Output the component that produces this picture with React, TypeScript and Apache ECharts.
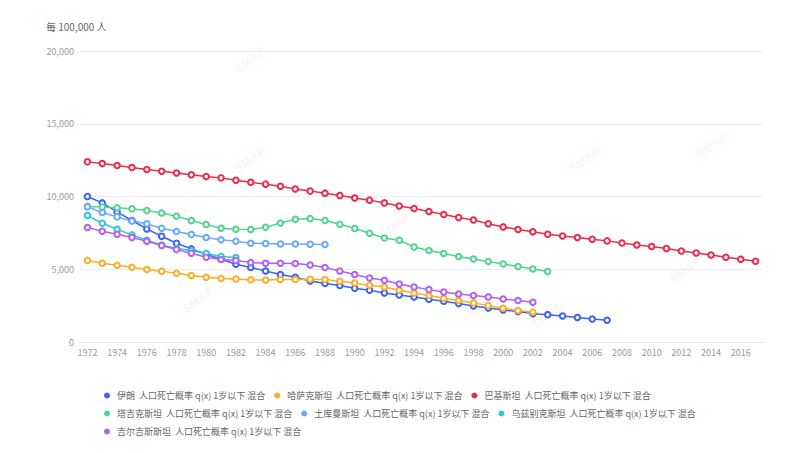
import React, { useEffect, useRef } from "react";
import * as echarts from "echarts";

const years = [
  "1972", "1973", "1974", "1975", "1976", "1977", "1978", "1979", "1980", "1981",
  "1982", "1983", "1984", "1985", "1986", "1987", "1988", "1989", "1990", "1991",
  "1992", "1993", "1994", "1995", "1996", "1997", "1998", "1999", "2000", "2001",
  "2002", "2003", "2004", "2005", "2006", "2007", "2008", "2009", "2010", "2011",
  "2012", "2013", "2014", "2015", "2016", "2017",
];

const iran = [
  10000, 9560, 8940, 8350, 7770, 7270, 6790, 6400, 6030, 5690,
  5340, 5120, 4880, 4640, 4450, 4190, 4020, 3880, 3690, 3560,
  3370, 3230, 3100, 2940, 2800, 2640, 2480, 2340, 2200, 2090,
  1950, 1880, 1790, 1680, 1580, 1490,
];
const kazakhstan = [
  5600, 5410, 5280, 5140, 4980, 4860, 4720, 4570, 4450, 4360,
  4330, 4270, 4260, 4290, 4290, 4310, 4290, 4170, 4060, 3900,
  3780, 3560, 3370, 3190, 3010, 2850, 2680, 2500, 2320, 2160,
  2040,
];
const pakistan = [
  12380, 12270, 12130, 11990, 11860, 11740, 11620, 11490, 11380, 11280,
  11120, 10980, 10850, 10710, 10520, 10370, 10230, 10070, 9900, 9750,
  9560, 9350, 9170, 8970, 8760, 8560, 8390, 8120, 7910, 7730,
  7570, 7410, 7290, 7180, 7060, 6950, 6810, 6670, 6560, 6420,
  6260, 6120, 5980, 5830, 5690, 5550,
];
const tajikistan = [
  9320, 9280, 9220, 9150, 9040, 8870, 8640, 8350, 8070, 7820,
  7750, 7730, 7890, 8180, 8440, 8480, 8350, 8090, 7800, 7480,
  7150, 6990, 6530, 6290, 6080, 5870, 5710, 5530, 5360, 5190,
  5020, 4840,
];
const turkmenistan = [
  9290, 8900, 8600, 8320, 8120, 7820, 7590, 7390, 7180, 7020,
  6930, 6790, 6770, 6740, 6740, 6720, 6700,
];
const uzbekistan = [
  8690, 8160, 7750, 7360, 6990, 6670, 6420, 6290, 6080, 5870,
  5800,
];
const kyrgyzstan = [
  7870, 7610, 7410, 7180, 6930, 6630, 6350, 6100, 5830, 5670,
  5600, 5460, 5410, 5410, 5390, 5290, 5120, 4880, 4640, 4400,
  4240, 3990, 3780, 3600, 3440, 3300, 3190, 3100, 2960, 2850,
  2730,
];

const suffix = "  人口死亡概率 q(x) 1岁以下 混合";
const seriesDefs = [
  { name: "伊朗" + suffix, data: iran, color: "#3b63f3" },
  { name: "哈萨克斯坦" + suffix, data: kazakhstan, color: "#fcad26" },
  { name: "巴基斯坦" + suffix, data: pakistan, color: "#ec2b4a" },
  { name: "塔吉克斯坦" + suffix, data: tajikistan, color: "#50d58e" },
  { name: "土库曼斯坦" + suffix, data: turkmenistan, color: "#6ba7fa" },
  { name: "乌兹别克斯坦" + suffix, data: uzbekistan, color: "#2ec7d8" },
  { name: "吉尔吉斯斯坦" + suffix, data: kyrgyzstan, color: "#b35ef5" },
];

const yTicks = [0, 5000, 10000, 15000, 20000];

const watermarks = [
  [250, 160], [395, 225], [585, 160], [712, 145], [685, 270], [548, 315], [198, 300], [250, 60],
];

const FONT = "'Noto Sans CJK SC', 'Noto Sans', sans-serif";

export default function App() {
  const ref = useRef<HTMLDivElement>(null);
  useEffect(() => {
    document.body.style.margin = "0";
    if (!ref.current) return;
    const chart = echarts.init(ref.current, undefined, { renderer: "svg" });
    chart.setOption({
      animation: false,
      backgroundColor: "#ffffff",
      textStyle: { fontFamily: FONT },
      title: {
        text: "每 100,000 人",
        left: 41,
        top: 16,
        textStyle: { fontSize: 10, fontWeight: "normal", color: "#666", fontFamily: FONT },
      },
      graphic: watermarks.map(([x, y]) => ({
        type: "text",
        x,
        y,
        rotation: Math.PI / 5,
        silent: true,
        z: -1,
        style: {
          text: "SMAP",
          fill: "rgba(236, 60, 80, 0.07)",
          font: "bold 12px sans-serif",
          align: "center",
          verticalAlign: "middle",
        },
      })),
      legend: {
        left: 99,
        right: 60,
        top: 386,
        icon: "circle",
        itemWidth: 6,
        itemHeight: 6,
        itemGap: 9,
        itemStyle: { borderWidth: 0 },
        textStyle: { fontSize: 9, color: "#666", fontFamily: FONT, padding: [0, 0, 0, 2] },
        data: seriesDefs.map((s) => s.name),
      },
      grid: { left: 80, right: 36, top: 51, bottom: 111 },
      xAxis: {
        type: "category",
        data: years,
        boundaryGap: true,
        axisLine: { lineStyle: { color: "#e6e6ee" } },
        axisTick: { show: false },
        axisLabel: { interval: 1, fontSize: 9, color: "#999", margin: 6 },
      },
      yAxis: {
        type: "value",
        min: yTicks[0],
        max: yTicks[yTicks.length - 1],
        interval: 5000,
        axisLine: { show: false },
        axisTick: { show: false },
        splitLine: { lineStyle: { color: "#ececf2" } },
        axisLabel: {
          fontSize: 9,
          color: "#999",
          margin: 6,
          formatter: (v: number) => v.toLocaleString("en-US"),
        },
      },
      series: seriesDefs.map((s) => ({
        name: s.name,
        type: "line",
        data: s.data,
        color: s.color,
        symbol: "emptyCircle",
        symbolSize: 5.5,
        showSymbol: true,
        lineStyle: { width: 1.5, color: s.color },
        itemStyle: { color: s.color, borderWidth: 1.5, borderColor: s.color },
      })),
    });
    return () => chart.dispose();
  }, []);
  return <div ref={ref} style={{ width: 799, height: 453 }} />;
}
